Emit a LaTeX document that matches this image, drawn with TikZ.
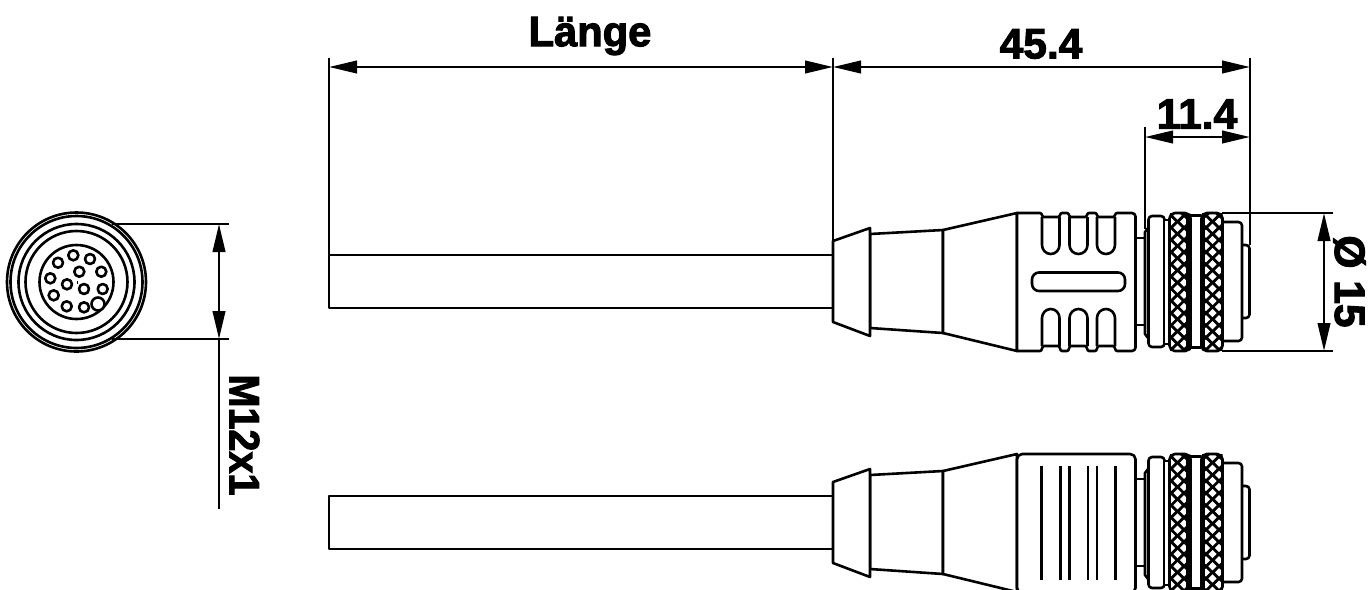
\documentclass[tikz,border=0pt]{standalone}
\usepackage{fontspec}
\setmainfont{Liberation Sans}
\newfontfamily\dimfont[FakeBold=2.4]{Liberation Sans Bold}
\usetikzlibrary{arrows.meta}
\tikzset{
  x=0.02cm,y=-0.02cm,
  solidpart/.style={line width=0.052cm,line join=round,fill=white,draw=black},
  outl/.style={line width=0.052cm,line join=round},
  dimline/.style={line width=0.05cm,{Triangle[length=0.56cm,width=0.25cm]}-{Triangle[length=0.56cm,width=0.25cm]}},
  extline/.style={line width=0.05cm},
  dimtext/.style={inner sep=0pt,font=\dimfont\fontsize{24.2}{26}\selectfont},
}
\newcommand{\knurlband}[3]{%
  \begin{scope}
    \clip (#1,213) rectangle (#2,351);
    \fill[black] (#1,213) rectangle (#2,351);
    \foreach \i in {-2,-1,0,1,2}{
      \foreach \j in {0,...,24}{
        \pgfmathtruncatemacro{\kpar}{mod(\j+\i+20,2)}
        \ifnum\kpar=0
          \pgfmathsetmacro{\dx}{#3+\i*6.55}
          \pgfmathsetmacro{\dy}{215.5+\j*6.1}
          \fill[white] (\dx-4.1,\dy) -- (\dx,\dy-4.1) -- (\dx+4.1,\dy) -- (\dx,\dy+4.1) -- cycle;
        \fi
      }
    }
  \end{scope}}
\newcommand{\headbody}{%
  \draw[solidpart] (943,230) -- (870,234) -- (870,328) -- (943,333) -- cycle;
  \draw[solidpart] (833,241) -- (870,228) -- (870,336) -- (833,322) -- cycle;
  \draw[solidpart] (1017,213) -- (943,230) -- (943,333) -- (1017,351) -- cycle;
}
\newcommand{\headfront}{%
  \draw[outl] (1135,238) -- (1146,238) (1135,325) -- (1146,325);
  \draw[solidpart] (1148,228) -- (1145,232) -- (1145,334) -- (1148,338) -- (1164,338) -- (1164,228) -- cycle;
  \draw[solidpart,rounded corners=2] (1148.5,216) rectangle (1164.5,347);
  \draw[solidpart] (1164.5,220) -- (1169.5,220) -- (1169.5,344) -- (1164.5,344);
  \draw[solidpart,rounded corners=2] (1241,245) -- (1249.5,245) -- (1249.5,318) -- (1241,318);
  \draw[solidpart,rounded corners=2] (1222,222) -- (1242,222) -- (1242,341) -- (1222,341);
  \draw[solidpart] (1190,215.5) rectangle (1202,347.5);
  \knurlband{1169.5}{1190.5}{1177.5}
  \knurlband{1201.5}{1222.5}{1212.5}
  \fill[black] (1186,214) rectangle (1190.5,350);
  \fill[black] (1201.5,214) rectangle (1205,350);
  \draw[outl,rounded corners=3] (1169.5,351) -- (1169.5,213) -- (1190.5,213) -- (1190.5,351) -- cycle;
  \draw[outl,rounded corners=3] (1201.5,351) -- (1201.5,213) -- (1222.5,213) -- (1222.5,351) -- cycle;
}
\begin{document}
\begin{tikzpicture}
\useasboundingbox (0,0) rectangle (1371,589);
\clip (0,0) rectangle (1371,589);
\fill[white] (0,0) rectangle (1371,589);

% ---------- end view ----------
\coordinate (ec) at (76.5,282);
\foreach \r in {69.5,66,58,51,37}{\draw[outl] (ec) circle[radius=\r];}
\foreach \hx/\hy in {73.3/255.3,90/259,101.3/271.7,102.7/289,84/307.3,66.7/306.3,53.7/295.3,50.3/278.3,58/262.7,79.3/271.7,67/284.3,84/289}{
  \draw[outl] (\hx,\hy) circle[radius=5];}
\draw[outl,fill=white] (98,304) circle[radius=6.5];
\fill (76.7,281) rectangle (77.7,283.5);

\coordinate (mtl) at (112,224);
\coordinate (mtr) at (229,224);
\coordinate (mbl) at (112,339);
\coordinate (mbr) at (229,339);
\coordinate (mt) at (219,224);
\coordinate (mb) at (219,339);
\coordinate (me) at (219,509);
\draw[extline] (mtl) -- (mtr);
\draw[extline] (mbl) -- (mbr);
\draw[dimline] (mt) -- (mb);
\draw[extline] (mb) -- (me);
\node[dimtext,rotate=-90] (mlabel) at (244.5,435) {\scalebox{.93}[1]{M12x1}};

% ---------- upper side view ----------
\coordinate (cta) at (329,255);
\coordinate (ctb) at (833,255);
\coordinate (cbb) at (833,308);
\coordinate (cba) at (329,308);
\draw[outl] (ctb) -- (cta) -- (cba) -- (cbb);
\headbody
\draw[solidpart] (1017,213) -- (1040,213) to[out=0,in=180] (1044,217) -- (1058,217) to[out=0,in=180] (1062,213) -- (1067,213) to[out=0,in=180] (1071,217) -- (1085,217) to[out=0,in=180] (1089,213) -- (1095,213) to[out=0,in=180] (1099,217) -- (1113,217) to[out=0,in=180] (1117,213) -- (1132,213) to[out=0,in=90] (1135.5,216.5) -- (1135.5,347.5) to[out=-90,in=0] (1132,351) -- (1117,351) to[out=180,in=0] (1113,346) -- (1099,346) to[out=180,in=0] (1095,351) -- (1089,351) to[out=180,in=0] (1085,346) -- (1071,346) to[out=180,in=0] (1067,351) -- (1062,351) to[out=180,in=0] (1058,346) -- (1044,346) to[out=180,in=0] (1040,351) -- (1017,351) -- cycle;
\foreach \xa/\xm/\xb in {1042/1050.75/1059.5,1069.5/1078.5/1087.5,1097/1106/1115}{
  \draw[outl] (\xa,217) -- (\xa,245) to[out=-90,in=180] (\xm,254) to[out=0,in=-90] (\xb,245) -- (\xb,217);
  \draw[outl] (\xa,346) -- (\xa,318) to[out=90,in=180] (\xm,309) to[out=0,in=90] (\xb,318) -- (\xb,346);
}
\draw[outl,rounded corners=4] (1032,272.5) rectangle (1125,291);
\headfront

% ---------- lower side view ----------
\coordinate (lta) at (329,496);
\coordinate (ltb) at (833,496);
\coordinate (lbb) at (833,549);
\coordinate (lba) at (329,549);
\draw[outl] (ltb) -- (lta) -- (lba) -- (lbb);
\begin{scope}[shift={(0,241)}]
  \headbody
  \draw[solidpart,rounded corners=3] (1017,213) -- (1135.5,213) -- (1135.5,352) -- (1017,352) -- cycle;
  \foreach \lx in {1041.7,1060.7,1069.7,1088,1097,1115.3}{
    \draw[outl] (\lx,224.5) -- (\lx,339);}
  \headfront
\end{scope}

% ---------- dimensions ----------
\coordinate (la) at (329,58);
\coordinate (lb) at (833,58);
\coordinate (lc) at (833,241);
\coordinate (ra) at (1250,58);
\coordinate (rb) at (1250,245);
\coordinate (sa) at (1145,127);
\coordinate (sb) at (1145,229);
\coordinate (d1a) at (329,67);
\coordinate (d1b) at (833,67);
\coordinate (d2b) at (1250,67);
\coordinate (d3a) at (1145,137);
\coordinate (d3b) at (1250,137);
\draw[extline] (la) -- (cta);
\draw[extline] (lb) -- (lc);
\draw[extline] (ra) -- (rb);
\draw[extline] (sa) -- (sb);
\draw[dimline] (d1a) -- (d1b);
\draw[dimline] (d1b) -- (d2b);
\draw[dimline] (d3a) -- (d3b);
\node[dimtext] (lange) at (590,36) {\scalebox{.98}[1]{Länge}};
\node[dimtext] (vala) at (1041,44) {45.4};
\node[dimtext] (valb) at (1197,114) {11.4};

\coordinate (da) at (1222,213);
\coordinate (db) at (1333,213);
\coordinate (dc) at (1222,351);
\coordinate (dd) at (1333,351);
\coordinate (de) at (1324,213);
\coordinate (df) at (1324,351);
\draw[extline] (da) -- (db);
\draw[extline] (dc) -- (dd);
\draw[dimline] (de) -- (df);
\node[dimtext,rotate=-90] (durch) at (1349.5,281.5) {Ø 15};
\end{tikzpicture}
\end{document}
